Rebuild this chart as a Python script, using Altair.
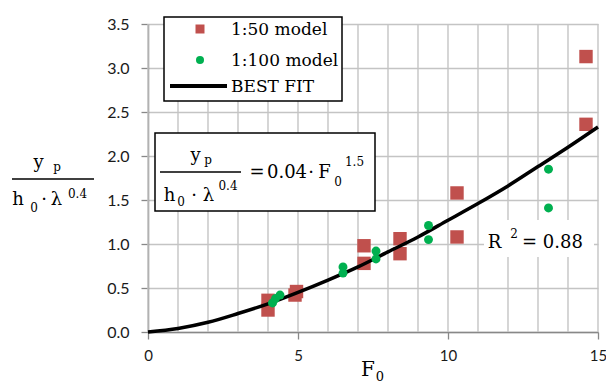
import altair as alt
import pandas as pd

# ---- data ----
f0_50 = [4.0, 4.0, 4.9, 4.95, 7.2, 7.2, 8.4, 8.4, 10.3, 10.3, 14.6, 14.6]
yp_50 = [0.36, 0.25, 0.42, 0.46, 0.98, 0.78, 1.06, 0.89, 1.58, 1.08, 3.13, 2.36]

f0_100 = [4.15, 4.25, 4.4, 6.5, 6.5, 7.6, 7.6, 9.35, 9.35, 13.35, 13.35]
yp_100 = [0.33, 0.38, 0.42, 0.74, 0.67, 0.92, 0.83, 1.21, 1.05, 1.85, 1.41]

fit_x = [0, 1, 2, 3, 4, 5, 6, 7, 8, 9, 10, 11, 12, 13, 14, 15]
fit_y = [0.0, 0.04, 0.11, 0.21, 0.32, 0.45, 0.59, 0.74, 0.91, 1.08, 1.27,
         1.46, 1.66, 1.88, 2.10, 2.33]

x_grid = list(range(16))
x_ticks = [0, 5, 10, 15]
y_grid = [0, 0.5, 1.0, 1.5, 2.0, 2.5, 3.0, 3.5]

legend_labels = ["1:50 model", "1:100 model", "BEST FIT"]
r2_text = "0.88"

RED = "#c0504d"
GREEN = "#00b050"
SERIF = "DejaVu Serif"
MAIN = 18
SMALL = 12

df50 = pd.DataFrame({"F0": f0_50, "yp": yp_50})
df100 = pd.DataFrame({"F0": f0_100, "yp": yp_100})
dffit = pd.DataFrame({"F0": fit_x, "yp": fit_y})
dfgrid = pd.DataFrame({"F0": x_grid})
one = pd.DataFrame({"a": [0]})

xscale = alt.Scale(domain=[0, 15], nice=False, zero=False)
yscale = alt.Scale(domain=[0, 3.5], nice=False, zero=False)

xaxis = alt.Axis(
    values=x_ticks, title=None, grid=False, tickSize=7,
    labelPadding=9, labelFontSize=15, labelFont="Lato", labelColor="#1a1a1a",
    labelFlush=False, labelOverlap=False,
)
yaxis = alt.Axis(
    values=y_grid, title=None, grid=True, format=".1f", tickSize=7,
    labelPadding=12, labelFontSize=16, labelFont="Lato", labelColor="#1a1a1a",
    labelOverlap=False,
)

vgrid = alt.Chart(dfgrid).mark_rule(color="#c4c4c4", strokeWidth=1.4).encode(
    x=alt.X("F0:Q", scale=xscale, axis=xaxis))
squares = alt.Chart(df50).mark_square(size=180, color=RED, opacity=1).encode(
    x=alt.X("F0:Q", scale=xscale), y=alt.Y("yp:Q", scale=yscale, axis=yaxis))
fit = alt.Chart(dffit).mark_line(color="black", strokeWidth=3.5, interpolate="monotone").encode(
    x=alt.X("F0:Q", scale=xscale), y=alt.Y("yp:Q", scale=yscale))
circles = alt.Chart(df100).mark_circle(size=80, color=GREEN, opacity=1).encode(
    x=alt.X("F0:Q", scale=xscale), y=alt.Y("yp:Q", scale=yscale))


def txt(t, x, y, size=MAIN, align="center"):
    return alt.Chart(one).mark_text(
        text=t, font=SERIF, fontSize=size, align=align, baseline="alphabetic", color="black"
    ).encode(x=alt.value(x), y=alt.value(y))


def box(x1, x2, y1, y2, stroke="black", sw=1.5):
    return alt.Chart(one).mark_rect(fill="white", stroke=stroke, strokeWidth=sw).encode(
        x=alt.value(x1), x2=alt.value(x2), y=alt.value(y1), y2=alt.value(y2))


def hline(x1, x2, y, sw=1.5):
    return alt.Chart(one).mark_rule(color="black", strokeWidth=sw).encode(
        x=alt.value(x1), x2=alt.value(x2), y=alt.value(y))


# legend
legend = [
    box(16, 194, -7, 77),
    alt.Chart(one).mark_square(size=81, color=RED, opacity=1).encode(x=alt.value(52), y=alt.value(5)),
    alt.Chart(one).mark_circle(size=64, color=GREEN, opacity=1).encode(x=alt.value(52), y=alt.value(36)),
    alt.Chart(one).mark_rule(color="black", strokeWidth=4).encode(
        x=alt.value(22), x2=alt.value(79), y=alt.value(62)),
    txt(legend_labels[0], 83, 11, 17, align="left"),
    txt(legend_labels[1], 83, 42, 17, align="left"),
    txt(legend_labels[2], 83, 68, 17, align="left"),
]

# equation box
equation = [
    box(7, 227, 109, 187),
    txt("y", 47.5, 137),
    txt("p", 60, 140, SMALL),
    hline(12, 93, 148),
    txt("h", 21.5, 177),
    txt("0", 33, 182, SMALL),
    txt("·", 46, 177),
    txt("λ", 60.5, 177),
    txt("0.4", 80, 166, SMALL),
    txt("=", 109, 154),
    txt("0.04", 139, 154),
    txt("·", 163, 154),
    txt("F", 176.5, 154),
    txt("0", 190, 162, SMALL),
    txt("1.5", 206.5, 142, SMALL),
]

# R^2 label
r2 = [
    box(336, 446, 196, 233, stroke="white", sw=0),
    txt("R", 346.5, 224),
    txt("2", 366, 214, SMALL),
    txt("= " + r2_text, 404.5, 224),
]

# y axis title (fraction)
ytitle = [
    txt("y", -109.5, 144),
    txt("p", -91, 147, SMALL),
    hline(-136, -54, 155),
    txt("h", -130, 181),
    txt("0", -114, 188, SMALL),
    txt("·", -104, 181),
    txt("λ", -91.5, 181),
    txt("0.4", -70.5, 174, SMALL),
]

# x axis title
xtitle = [
    txt("F", 220, 352, 20),
    txt("0", 232, 357, 13),
]

chart = alt.layer(
    vgrid, squares, fit, circles, *r2, *legend, *equation, *ytitle, *xtitle
).properties(
    width=450, height=308,
    autosize=alt.AutoSizeParams(type="none"),
    padding={"left": 140, "top": 16, "right": 8, "bottom": 53},
).configure_view(stroke=None).configure_axis(
    gridColor="#c4c4c4", gridWidth=1.4, domainColor="#888888", domainWidth=1.5,
    tickColor="#888888", tickWidth=1.3,
)

chart.save("out.html", embed_options={"renderer": "svg", "actions": False})
